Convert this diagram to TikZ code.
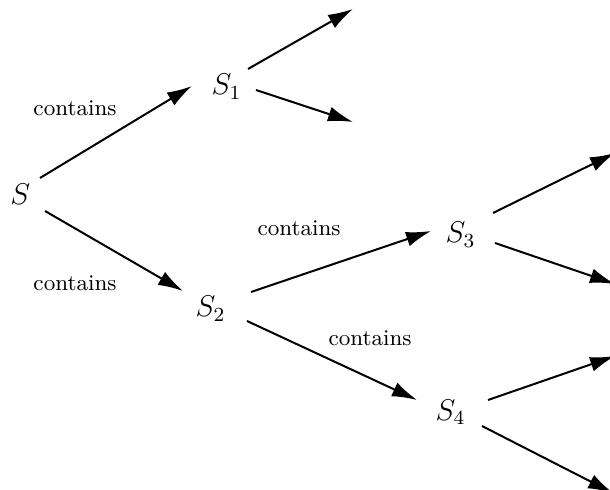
\documentclass[tikz,border=0pt]{standalone}
\usetikzlibrary{arrows.meta}
\begin{document}
\begin{tikzpicture}[x=0.4pt,y=-0.4pt,
  st/.style={anchor=base west,inner sep=0pt,font=\large},
  lbl/.style={inner sep=0pt,font=\small},
  arr/.style={line width=0.8pt,-{Latex[length=10pt,width=6pt]}}]
\useasboundingbox (0,0) rectangle (610,490);
\node[st] (S) at (10,205) {$S$};
\node[st] (S1) at (211,95) {$S_1$};
\node[st] (S2) at (195,317) {$S_2$};
\node[st] (S3) at (445,243) {$S_3$};
\node[st] (S4) at (435,420) {$S_4$};
\coordinate (e1) at (353,9);
\coordinate (e2) at (353,122);
\coordinate (e3) at (615,153);
\coordinate (e4) at (615,284);
\coordinate (e5) at (615,356);
\coordinate (e6) at (613,493);
\node[lbl] (l1) at (75,108) {contains};
\node[lbl] (l2) at (75,283) {contains};
\node[lbl] (l3) at (299,228) {contains};
\node[lbl] (l4) at (370,338) {contains};
\draw[arr] ([shift={(30,-27)}]S.base west) -- ([shift={(-19,-9)}]S1.base west);
\draw[arr] ([shift={(35,6)}]S.base west) -- ([shift={(-12,-26)}]S2.base west);
\draw[arr] ([shift={(37,-26)}]S1.base west) -- (e1);
\draw[arr] ([shift={(45,-5)}]S1.base west) -- (e2);
\draw[arr] ([shift={(56,-25)}]S2.base west) -- ([shift={(-14,-12)}]S3.base west);
\draw[arr] ([shift={(52,4)}]S2.base west) -- ([shift={(-18,-20)}]S4.base west);
\draw[arr] ([shift={(48,-30)}]S3.base west) -- (e3);
\draw[arr] ([shift={(50,0)}]S3.base west) -- (e4);
\draw[arr] ([shift={(53,-20)}]S4.base west) -- (e5);
\draw[arr] ([shift={(47,6)}]S4.base west) -- (e6);
\end{tikzpicture}
\end{document}
